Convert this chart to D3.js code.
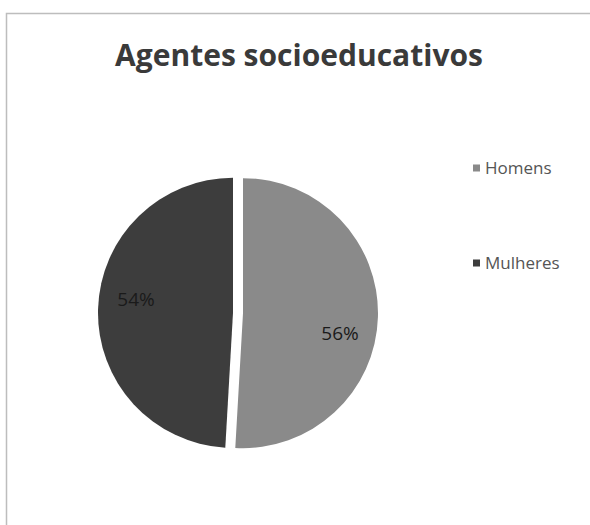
<!DOCTYPE html>
<html><head><meta charset="utf-8">
<script src="https://cdn.jsdelivr.net/npm/d3@7"></script>
<style>body{margin:0;background:#fff}svg{display:block}</style>
</head><body>
<script>
const categories = ["Homens", "Mulheres"];
const values = [56, 54];
const labels = ["56%", "54%"];
const colors = ["#8a8a8a", "#3d3d3d"];
const title = "Agentes socioeducativos";

const W = 590, H = 525;
const svg = d3.select("body").append("svg").attr("width", W).attr("height", H);

// frame
svg.append("path").attr("d", "M6.5,525 L6.5,13.5 L590,13.5")
  .attr("fill", "none").attr("stroke", "#bdbdbd").attr("stroke-width", 1.5);

svg.append("text").attr("x", 299).attr("y", 66).attr("text-anchor", "middle")
  .attr("font-family", "'Open Sans', sans-serif").attr("font-weight", "bold")
  .attr("font-size", 30).attr("fill", "#3a3a3a").text(title);

const cx = 238, cy = 313, r = 135, explode = 5;
const pie = d3.pie().sort(null).value(d => d)(values);
const arc = d3.arc().innerRadius(0).outerRadius(r);
const g = svg.append("g").attr("transform", `translate(${cx},${cy})`);
pie.forEach((p, i) => {
  const mid = (p.startAngle + p.endAngle) / 2;
  const dx = Math.sin(mid) * explode, dy = -Math.cos(mid) * explode;
  g.append("path").attr("d", arc(p)).attr("fill", colors[i])
    .attr("transform", `translate(${dx},${dy})`);
});
const labelPos = [[340, 333], [136, 299]];
pie.forEach((p, i) => {
  svg.append("text").attr("x", labelPos[i][0]).attr("y", labelPos[i][1])
    .attr("dy", "0.35em").attr("text-anchor", "middle")
    .attr("font-family", "'Open Sans', sans-serif").attr("font-size", 19)
    .attr("fill", "#1a1a1a").text(labels[i]);
});

const legendY = [168, 263];
categories.forEach((c, i) => {
  svg.append("rect").attr("x", 473).attr("y", legendY[i] - 3.5).attr("width", 7).attr("height", 7)
    .attr("fill", colors[i]);
  svg.append("text").attr("x", 485).attr("y", legendY[i]).attr("dy", "0.35em")
    .attr("font-family", "'Open Sans', sans-serif").attr("font-size", 17)
    .attr("fill", "#555").text(c);
});
</script>
</body></html>
